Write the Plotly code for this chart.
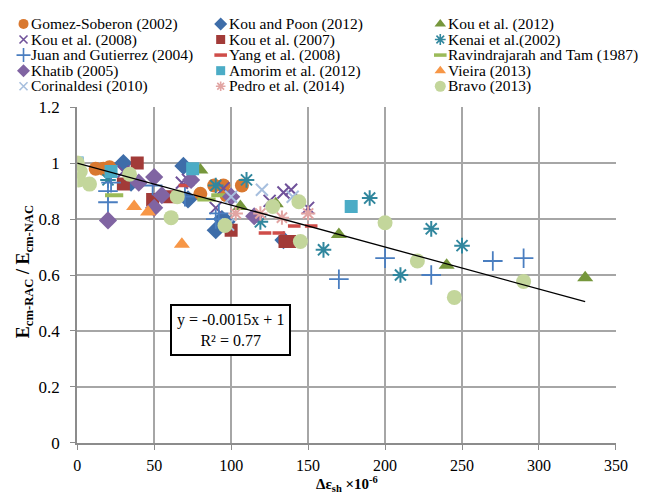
import plotly.graph_objects as go

# ---------------- data ----------------
gomez_x = [12, 17, 21, 80, 89, 95, 97, 107]
gomez_y = [0.98, 0.98, 0.985, 0.89, 0.92, 0.92, 0.885, 0.92]

kou_poon_x = [30, 35, 69, 72, 90, 94, 97, 134]
kou_poon_y = [1.0, 0.93, 0.99, 0.87, 0.76, 0.80, 0.79, 0.725]

kou2012_x = [80, 106, 129, 170, 240, 330]
kou2012_y = [0.975, 0.845, 0.855, 0.745, 0.635, 0.59]

kou2008_x = [30, 68, 72, 90, 95, 125, 134, 139, 150]
kou2008_y = [0.97, 0.93, 0.94, 0.84, 0.91, 0.865, 0.895, 0.905, 0.84]

kou2007_x = [30, 39, 49, 60, 100, 135, 138]
kou2007_y = [0.925, 1.0, 0.87, 0.88, 0.76, 0.72, 0.72]

kenai_x = [20, 90, 110, 119, 160, 190, 210, 230, 250]
kenai_y = [0.94, 0.92, 0.94, 0.79, 0.69, 0.875, 0.60, 0.765, 0.705]

juan_x = [20, 20, 22, 49, 70, 90, 92, 170, 200, 230, 270, 290]
juan_y = [0.90, 0.86, 0.93, 0.92, 0.88, 0.80, 0.82, 0.585, 0.66, 0.60, 0.65, 0.66]

yang_x = [70, 122, 131, 141, 152]
yang_y = [0.92, 0.75, 0.75, 0.775, 0.775]

ravin_x = [24, 84, 93]
ravin_y = [0.885, 0.87, 0.885]

khatib_x = [20, 40, 50, 50, 55, 74, 100, 115]
khatib_y = [0.795, 0.93, 0.95, 0.84, 0.885, 0.94, 0.88, 0.81]

amorim_x = [0, 22, 75, 178]
amorim_y = [1.0, 0.97, 0.98, 0.845]

vieira_x = [37, 46, 68]
vieira_y = [0.845, 0.825, 0.71]

corin_x = [0, 98, 100, 120, 140]
corin_y = [1.0, 0.78, 0.88, 0.905, 0.88]

pedro_x = [0, 103, 119, 133, 150]
pedro_y = [1.0, 0.82, 0.82, 0.805, 0.82]

bravo_x = [0, 2, 1, 8, 34, 61, 65, 96, 127, 144, 145, 200, 221, 245, 290]
bravo_y = [1.0, 0.97, 0.94, 0.925, 0.96, 0.805, 0.88, 0.777, 0.845, 0.862, 0.72, 0.787, 0.65, 0.52, 0.577]

trend_slope = -0.0015
trend_intercept = 1.0
trend_x = [0, 330]

x_ticks = [0, 50, 100, 150, 200, 250, 300, 350]
y_ticks = [0, 0.2, 0.4, 0.6, 0.8, 1.0, 1.2]
y_tick_labels = ["0", "0.2", "0.4", "0.6", "0.8", "1", "1.2"]

# ---------------- styles ----------------
series = [
    ("Gomez-Soberon (2002)", gomez_x, gomez_y, "circle", "#D9782F", 14, 0),
    ("Kou and Poon (2012)", kou_poon_x, kou_poon_y, "diamond", "#3E6DA9", 14, 0),
    ("Kou et al. (2012)", kou2012_x, kou2012_y, "triangle-up", "#76973C", 14, 0),
    ("Kou et al. (2008)", kou2008_x, kou2008_y, "x-thin-open", "#70529A", 12, 2),
    ("Kou et al. (2007)", kou2007_x, kou2007_y, "square", "#A23B38", 13, 0),
    ("Kenai et al.(2002)", kenai_x, kenai_y, "asterisk-open", "#31879E", 13, 2),
    ("Juan and Gutierrez (2004)", juan_x, juan_y, "cross-thin-open", "#4A7EC0", 14, 1.8),
    ("Yang et al. (2008)", yang_x, yang_y, "line-ew-open", "#CF4D49", 9, 3.5),
    ("Ravindrajarah and Tam (1987)", ravin_x, ravin_y, "line-ew-open", "#9BBB59", 13, 4),
    ("Khatib (2005)", khatib_x, khatib_y, "diamond", "#8064A2", 14, 0),
    ("Amorim et al. (2012)", amorim_x, amorim_y, "square", "#4BACC6", 13, 0),
    ("Vieira (2013)", vieira_x, vieira_y, "triangle-up", "#F79646", 14, 0),
    ("Corinaldesi (2010)", corin_x, corin_y, "x-thin-open", "#A7BFDE", 12, 2),
    ("Pedro et al. (2014)", pedro_x, pedro_y, "asterisk-open", "#E2A5A3", 12, 2),
    ("Bravo (2013)", bravo_x, bravo_y, "circle", "#C3D69B", 15, 0),
]

W, H = 667, 501
PX_L, PX_R, PX_T, PX_B = 75, 627, 102, 451
FONT = "Liberation Serif, Times New Roman, serif"


def rich(s):
    return "<span>" + s + "</span>"


fig = go.Figure()

for name, xs, ys, sym, col, size, lw in series:
    if lw > 0:
        mk = dict(symbol=sym, size=size, color=col, line=dict(color=col, width=lw))
    else:
        mk = dict(symbol=sym, size=size, color=col, line=dict(width=0))
    fig.add_trace(go.Scatter(x=xs, y=ys, mode="markers", name=name, marker=mk,
                             showlegend=False, xaxis="x", yaxis="y"))

trend_y = [trend_slope * v + trend_intercept for v in trend_x]
fig.add_trace(go.Scatter(x=trend_x, y=trend_y, mode="lines",
                         line=dict(color="black", width=1.3), showlegend=False))

# ---------------- manual legend (3 columns x 5 rows) ----------------
col_x = [20, 222, 447]
row_y0, row_dy = 15.5, 16.2
annotations = []
for i, (name, xs, ys, sym, col, size, lw) in enumerate(series):
    c, r = i % 3, i // 3
    lx = col_x[c]
    ly = row_y0 + r * row_dy
    lsize = max(size - 4, 7)
    if sym.startswith("line-ew"):
        lsize = 9
    if lw > 0:
        mk = dict(symbol=sym, size=lsize, color=col,
                  line=dict(color=col, width=3.5 if sym.startswith("line") else 1.6))
    else:
        mk = dict(symbol=sym, size=lsize, color=col, line=dict(width=0))
    fig.add_trace(go.Scatter(x=[lx], y=[ly], mode="markers", marker=mk,
                             showlegend=False, xaxis="x2", yaxis="y2", hoverinfo="skip"))
    annotations.append(dict(x=lx + 6, y=ly, xref="x2", yref="y2", text=rich(name),
                            showarrow=False, xanchor="left", yanchor="middle",
                            font=dict(family=FONT, size=15.5, color="black")))

# equation box
annotations.append(dict(x=(232 - PX_L) / ((PX_R - PX_L) / 350), y=(PX_B - 334) / ((PX_B - PX_T) / 1.2),
                        xref="x", yref="y",
                        text="y = -0.0015x + 1<br>R² = 0.77", showarrow=False,
                        font=dict(family=FONT, size=16, color="black"),
                        bordercolor="black", borderwidth=2, borderpad=5,
                        bgcolor="white", align="center"))

# axis titles
annotations.append(dict(x=(PX_L + PX_R) / 2 / W, y=1 - 494 / H, xref="paper", yref="paper",
                        text="<b>Δε<sub>sh</sub> ×10<sup>-6</sup></b>", showarrow=False,
                        font=dict(family=FONT, size=15, color="black"),
                        xanchor="center", yanchor="middle"))
annotations.append(dict(x=21 / W, y=1 - 273 / H, xref="paper", yref="paper",
                        text="<b>E<sub>cm-RAC</sub> / E<sub>cm-NAC</sub></b>", showarrow=False,
                        textangle=-90, font=dict(family=FONT, size=18, color="black"),
                        xanchor="center", yanchor="middle"))

grid_col = "#A6A6A6"
axis_col = "#8C8C8C"
fig.update_layout(
    width=W, height=H,
    margin=dict(l=0, r=0, t=0, b=0),
    paper_bgcolor="white", plot_bgcolor="rgba(0,0,0,0)",
    font=dict(family=FONT, size=15, color="black"),
    showlegend=False,
    xaxis=dict(domain=[PX_L / W, PX_R / W], range=[0, 350], tickvals=x_ticks,
               ticktext=[rich(str(v)) for v in x_ticks],
               showgrid=True, gridcolor=grid_col, gridwidth=1.5,
               showline=True, linecolor=axis_col, linewidth=2,
               zeroline=False, ticks="outside", ticklen=5, tickcolor=axis_col,
               ticklabelstandoff=2,
               tickfont=dict(family=FONT, size=16, color="black"),
               anchor="y", fixedrange=True),
    yaxis=dict(domain=[1 - PX_B / H, 1 - PX_T / H], range=[0, 1.2], tickvals=y_ticks,
               ticktext=[rich(t) for t in y_tick_labels],
               showgrid=True, gridcolor=grid_col, gridwidth=1.5,
               showline=True, linecolor=axis_col, linewidth=2,
               zeroline=False, ticks="outside", ticklen=5, tickcolor=axis_col,
               ticklabelstandoff=7,
               tickfont=dict(family=FONT, size=17, color="black"),
               anchor="x", fixedrange=True),
    xaxis2=dict(domain=[0, 1], range=[0, W], visible=False, anchor="y2", fixedrange=True),
    yaxis2=dict(domain=[0, 1], range=[H, 0], visible=False, anchor="x2", fixedrange=True),
    annotations=annotations,
)

fig.write_html("out.html")
